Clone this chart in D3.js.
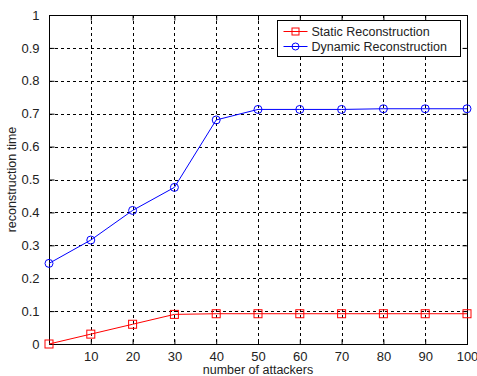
<!DOCTYPE html>
<html lang="en">
<head>
<meta charset="utf-8">
<title>reconstruction time</title>
<script src="https://cdn.jsdelivr.net/npm/d3@7"></script>
<style>
  body { margin: 0; background: #fff; }
  svg text { font-family: "Liberation Sans", Arial, sans-serif; fill: #222; }
</style>
</head>
<body>
<svg id="chart" width="477" height="376"></svg>
<script>
// values
var attackers = [0, 10, 20, 30, 40, 50, 60, 70, 80, 90, 100];
var staticTime = [0, 0.03, 0.06, 0.09, 0.092, 0.092, 0.092, 0.092, 0.092, 0.092, 0.092];
var dynamicTime = [0.245, 0.316, 0.406, 0.476, 0.681, 0.713, 0.713, 0.713, 0.715, 0.715, 0.715];
var xTicks = [10, 20, 30, 40, 50, 60, 70, 80, 90, 100];
var yTicks = [0, 0.1, 0.2, 0.3, 0.4, 0.5, 0.6, 0.7, 0.8, 0.9, 1];

var svg = d3.select('#chart');
// plot box (don't call these top/left etc, window.top is taken)
var plotL = 49, plotR = 467, plotT = 15, plotB = 344;

var x = d3.scaleLinear().domain([0, 100]).range([plotL, plotR]);
var y = d3.scaleLinear().domain([0, 1]).range([plotB, plotT]);

// grid
var grid = svg.append('g').attr('stroke', '#000').attr('stroke-dasharray', '3,3').attr('stroke-width', 1);
xTicks.forEach(function(t) {
  if (t === 100) return;
  grid.append('line').attr('x1', Math.round(x(t)) + 0.5).attr('x2', Math.round(x(t)) + 0.5)
    .attr('y1', plotT).attr('y2', plotB);
});
yTicks.forEach(function(t) {
  if (t === 0 || t === 1) return;
  grid.append('line').attr('y1', Math.round(y(t)) + 0.5).attr('y2', Math.round(y(t)) + 0.5)
    .attr('x1', plotL).attr('x2', plotR);
});

// axes, ticks inward like matlab
var xAxis = d3.axisBottom(x).tickValues(xTicks).tickSizeInner(-5).tickSizeOuter(0).tickPadding(7)
  .tickFormat(d3.format('d'));
var yAxis = d3.axisLeft(y).tickValues(yTicks).tickSizeInner(-5).tickSizeOuter(0).tickPadding(10)
  .tickFormat(function(d) { return d === 0 || d === 1 ? d3.format('d')(d) : d3.format('.1f')(d); });

svg.append('g').attr('transform', 'translate(0,' + (plotB + 0.5) + ')').call(xAxis);
svg.append('g').attr('transform', 'translate(' + (plotL + 0.5) + ',0)').call(yAxis);
// top/right ticks
svg.append('g').attr('transform', 'translate(0,' + (plotT + 0.5) + ')')
  .call(d3.axisTop(x).tickValues(xTicks).tickSizeInner(-5).tickSizeOuter(0).tickFormat(''));
svg.append('g').attr('transform', 'translate(' + (plotR + 0.5) + ',0)')
  .call(d3.axisRight(y).tickValues(yTicks).tickSizeInner(-5).tickSizeOuter(0).tickFormat(''));
svg.selectAll('.domain').remove();
svg.selectAll('.tick line').attr('stroke', '#000');
svg.selectAll('.tick text').attr('font-size', 13).attr('font-family', '"Liberation Sans", Arial, sans-serif').attr('fill', '#222');

svg.append('rect').attr('x', plotL + 0.5).attr('y', plotT + 0.5)
  .attr('width', plotR - plotL).attr('height', plotB - plotT)
  .attr('fill', 'none').attr('stroke', '#000');

// series
var line = d3.line().x(function(d, i) { return x(attackers[i]); }).y(function(d) { return y(d); });

svg.append('path').datum(staticTime).attr('d', line)
  .attr('fill', 'none').attr('stroke', '#f00').attr('stroke-width', 1);
svg.append('g').selectAll('rect').data(staticTime).join('rect')
  .attr('x', function(d, i) { return x(attackers[i]) - 4; })
  .attr('y', function(d) { return y(d) - 4; })
  .attr('width', 8).attr('height', 8)
  .attr('fill', 'none').attr('stroke', '#f00');

svg.append('path').datum(dynamicTime).attr('d', line)
  .attr('fill', 'none').attr('stroke', '#00f').attr('stroke-width', 1);
svg.append('g').selectAll('circle').data(dynamicTime).join('circle')
  .attr('cx', function(d, i) { return x(attackers[i]); })
  .attr('cy', function(d) { return y(d); })
  .attr('r', 4)
  .attr('fill', 'none').attr('stroke', '#00f');

// legend
var lg = svg.append('g').attr('transform', 'translate(277.5,20.5)');
lg.append('rect').attr('width', 183).attr('height', 36).attr('fill', '#fff').attr('stroke', '#000');
lg.append('line').attr('x1', 6).attr('x2', 30).attr('y1', 11).attr('y2', 11).attr('stroke', '#f00');
lg.append('rect').attr('x', 14.5).attr('y', 7.5).attr('width', 7).attr('height', 7).attr('fill', 'none').attr('stroke', '#f00');
lg.append('text').attr('x', 34).attr('y', 15.5).attr('font-size', 12.5).text('Static Reconstruction');
lg.append('line').attr('x1', 6).attr('x2', 30).attr('y1', 26).attr('y2', 26).attr('stroke', '#00f');
lg.append('circle').attr('cx', 18).attr('cy', 26).attr('r', 3.5).attr('fill', 'none').attr('stroke', '#00f');
lg.append('text').attr('x', 34).attr('y', 30.5).attr('font-size', 12.5).text('Dynamic Reconstruction');

// axis labels
svg.append('text').attr('x', (plotL + plotR) / 2).attr('y', 374).attr('text-anchor', 'middle')
  .attr('font-size', 12.5).text('number of attackers');
svg.append('text').attr('transform', 'translate(16,' + ((plotT + plotB) / 2) + ') rotate(-90)')
  .attr('text-anchor', 'middle').attr('font-size', 12.5).text('reconstruction time');
</script>
</body>
</html>
